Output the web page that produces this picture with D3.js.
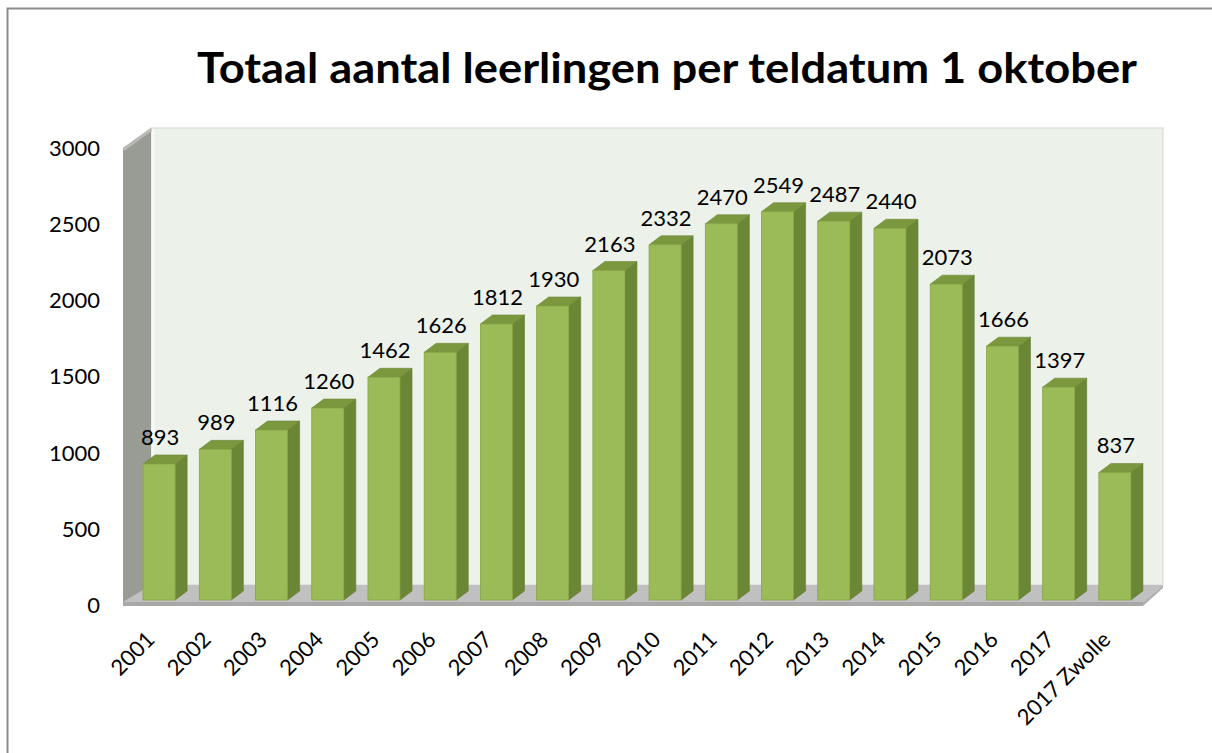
<!DOCTYPE html>
<html><head><meta charset="utf-8">
<script src="https://cdn.jsdelivr.net/npm/d3@7/dist/d3.min.js"></script>
<style>
html,body{margin:0;padding:0;background:#fff;}
svg{display:block;}
text{font-family:Lato,"Open Sans",sans-serif;fill:#000;}
</style></head><body>
<svg id="chart" width="1212" height="753"></svg>
<script>
const categories = ["2001","2002","2003","2004","2005","2006","2007","2008","2009","2010","2011","2012","2013","2014","2015","2016","2017","2017 Zwolle"];
const values = [893,989,1116,1260,1462,1626,1812,1930,2163,2332,2470,2549,2487,2440,2073,1666,1397,837];
const yTicks = [0,500,1000,1500,2000,2500,3000];
const title = "Totaal aantal leerlingen per teldatum 1 oktober";

const svg = d3.select("#chart");

// frame
svg.append("rect").attr("x",7.5).attr("y",8.5).attr("width",1400).attr("height",1000)
  .attr("fill","#fff").attr("stroke","#8c8c8c").attr("stroke-width",2);

// scales (front plane)
const y = d3.scaleLinear().domain([0,3000]).range([605,148]);
const x = d3.scaleBand().domain(categories).range([131,1143]).paddingInner(0.43).paddingOuter(0.215);

const frontL = 123, frontR = 1143, backL = 151, backR = 1163, depthY = 20;
const yBack = v => y(v) - depthY;

// back wall
svg.append("rect").attr("x",backL).attr("y",yBack(3000)).attr("width",backR-backL).attr("height",yBack(0)-yBack(3000))
  .attr("fill","#ecf1ea").attr("stroke","#dcdcd8").attr("stroke-width",1.2);
svg.append("line").attr("x1",backL+2).attr("x2",backL+2).attr("y1",yBack(3000)+1).attr("y2",yBack(0))
  .attr("stroke","#f6f9f5").attr("stroke-width",3);

// side wall
svg.append("polygon")
  .attr("points",[[frontL,y(3000)],[backL,yBack(3000)],[backL,yBack(0)],[frontL,y(0)]].map(p=>p.join(",")).join(" "))
  .attr("fill","#999b95");
svg.append("polygon")
  .attr("points",[[frontL,y(3000)],[backL,yBack(3000)],[backL+1,yBack(3000)+3],[frontL+1,y(3000)+3]].map(p=>p.join(",")).join(" "))
  .attr("fill","#b9bab5");

// floor
svg.append("polygon")
  .attr("points",[[frontL,y(0)-3],[frontR,y(0)-3],[backR,yBack(0)],[backL,yBack(0)]].map(p=>p.join(",")).join(" "))
  .attr("fill","#c0c0c0");
svg.append("polygon")
  .attr("points",[[frontL,y(0)-3],[frontR,y(0)-3],[frontR,y(0)+1],[frontL,y(0)+1]].map(p=>p.join(",")).join(" "))
  .attr("fill","#a8a8a8");
svg.append("polygon")
  .attr("points",[[frontR,y(0)-3],[backR,yBack(0)],[backR,yBack(0)+3],[frontR,y(0)+1]].map(p=>p.join(",")).join(" "))
  .attr("fill","#b0b0b0");

// bars
const bdx = 12, bdy = 9, shift = 5;
const yb = v => y(v) - shift;
const bw = x.bandwidth();
const g = svg.append("g");
const bars = g.selectAll("g.bar").data(values).enter().append("g").attr("class","bar");
bars.append("polygon")
  .attr("points",(d,i)=>{const x0=x(categories[i])+bw;return [[x0,yb(d)],[x0+bdx,yb(d)-bdy],[x0+bdx,yb(0)-bdy],[x0,yb(0)]].map(p=>p.join(",")).join(" ");})
  .attr("fill","#6b8735").attr("stroke","#5f7a2e").attr("stroke-width",0.6);
bars.append("polygon")
  .attr("points",(d,i)=>{const x0=x(categories[i]);return [[x0,yb(d)],[x0+bdx,yb(d)-bdy],[x0+bw+bdx,yb(d)-bdy],[x0+bw,yb(d)]].map(p=>p.join(",")).join(" ");})
  .attr("fill","#7b983f").attr("stroke","#6d8837").attr("stroke-width",0.6);
bars.append("rect")
  .attr("x",(d,i)=>x(categories[i])).attr("y",d=>yb(d)).attr("width",bw).attr("height",d=>yb(0)-yb(d))
  .attr("fill","#9bbb59").attr("stroke","#86a545").attr("stroke-width",0.8);

// data labels
g.selectAll("text.val").data(values).enter().append("text").attr("class","val")
  .attr("x",(d,i)=>x(categories[i])+bw/2+1).attr("y",d=>yb(d)-19)
  .attr("text-anchor","middle").attr("font-size",22).text(d=>d);

// y axis labels
svg.selectAll("text.yt").data(yTicks).enter().append("text").attr("class","yt")
  .attr("x",100).attr("y",d=>y(d)).attr("dy","0.36em")
  .attr("text-anchor","end").attr("font-size",22).text(d=>d);

// x labels
svg.selectAll("text.xt").data(categories).enter().append("text").attr("class","xt")
  .attr("transform",d=>`translate(${x(d)+bw/2-3},${y(0)+36}) rotate(-45)`)
  .attr("text-anchor","end").attr("font-size",22).text(d=>d);

// title
svg.append("text").attr("x",197).attr("y",83).attr("font-size",42).attr("font-weight","bold")
  .attr("textLength",940).attr("lengthAdjust","spacingAndGlyphs").text(title);
</script>
</body></html>
